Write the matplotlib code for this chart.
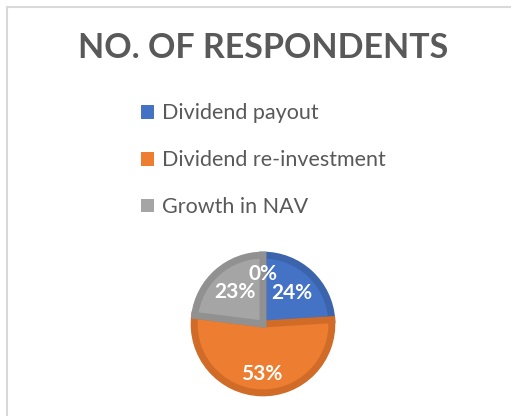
import matplotlib
matplotlib.use("Agg")
import matplotlib.pyplot as plt
from matplotlib.patches import Rectangle, Patch
import numpy as np

# data
categories = ["Dividend payout", "Dividend re-investment", "Growth in NAV", ""]
shares = [24, 53, 23, 0]
colors = ["#4472C4", "#ED7D31", "#A5A5A5", "#FFC000"]
edge_colors = ["#3B64AD", "#D06C28", "#919191", "#E0A800"]
label_dist = [0.6, 0.71, 0.6, 0.71]

plt.rcParams["font.family"] = ["Lato", "DejaVu Sans"]

W, H = 511, 416
fig = plt.figure(figsize=(W / 100, H / 100), dpi=100)
fig.patch.set_facecolor("white")

# chart border (cropped at right/bottom)
fig.add_artist(Rectangle((7 / W, -0.05), 1.1, 1 - 7 / H + 0.05, transform=fig.transFigure,
                         fill=False, edgecolor="#D9D9D9", linewidth=1.5))

fig.text(263 / W, 1 - 48 / H, "NO. OF RESPONDENTS", ha="center", va="center",
         fontsize=24.5, fontweight="bold", color="#595959")

# pie
cx, cy, r = 263, 324, 71
ax = fig.add_axes([(cx - r) / W, (H - cy - r) / H, 2 * r / W, 2 * r / H])
wedges, _ = ax.pie(shares, colors=colors, startangle=90, counterclock=False, radius=0.97,
                   wedgeprops=dict(linewidth=0))
for w, ec, val in zip(wedges, edge_colors, shares):
    if val == 0:
        continue
    w.set_edgecolor(ec)
    w.set_linewidth(5)
    w.set_joinstyle("miter")

for w, val, d in zip(wedges, shares, label_dist):
    mid = np.deg2rad((w.theta1 + w.theta2) / 2)
    ax.text(d * np.cos(mid), d * np.sin(mid), f"{val}%", ha="center", va="center",
            color="white", fontsize=15, fontweight="bold")
ax.set_xlim(-1, 1)
ax.set_ylim(-1, 1)
ax.set_aspect("equal")
ax.axis("off")

# legend
handles = [Patch(facecolor=c, edgecolor="none") for c in colors[:3]]
fig.legend(handles, categories[:3], loc="upper left", bbox_to_anchor=(122 / W, 1 - 84 / H),
           frameon=False, fontsize=15.5, handlelength=0.6, handleheight=0.6,
           handletextpad=0.35, labelspacing=1.25, labelcolor="#595959")

fig.savefig("out.png", dpi=100)
